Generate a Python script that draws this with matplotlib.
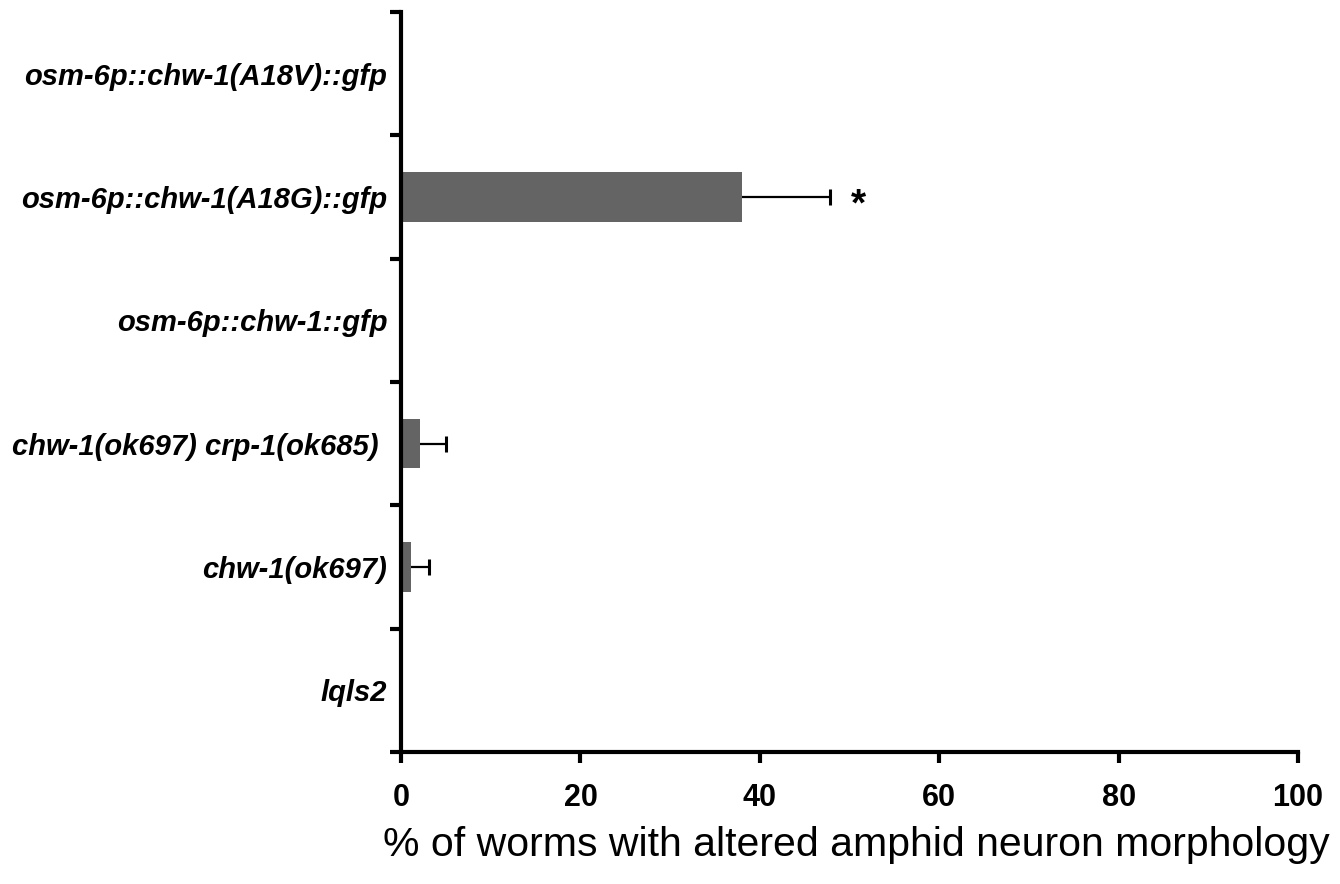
import matplotlib
matplotlib.use("Agg")
import matplotlib.pyplot as plt
import numpy as np

# data, bottom to top
strains = [
    "lqls2",
    "chw-1(ok697)",
    "chw-1(ok697) crp-1(ok685) ",
    "osm-6p::chw-1::gfp",
    "osm-6p::chw-1(A18G)::gfp",
    "osm-6p::chw-1(A18V)::gfp",
]
pct_altered = [0.0, 1.1, 2.1, 0.0, 38.0, 0.0]
sem = [0.0, 2.0, 2.9, 0.0, 9.8, 0.0]
signif = ["", "", "", "", "*", ""]
x_ticks = [0, 20, 40, 60, 80, 100]

plt.rcParams["font.family"] = ["Liberation Sans", "DejaVu Sans"]

fig = plt.figure(figsize=(13.4, 8.84), dpi=100)
ax = fig.add_axes([0.2993, 0.1493, 0.6694, 0.8371])

y = np.arange(len(strains))
vals = np.array(pct_altered)
errs = np.array(sem)
ax.barh(y, vals, height=0.4, color="#646464", edgecolor="none", zorder=2)

has_err = errs > 0
eb = ax.errorbar(vals[has_err], y[has_err], xerr=[np.zeros(has_err.sum()), errs[has_err]],
                 fmt="none", ecolor="black", elinewidth=1.6, capsize=6, capthick=2.2, zorder=3)
# only the upper cap, like the original
eb[1][0].set_visible(False)

for yi, v, e, s in zip(y, vals, errs, signif):
    if s:
        ax.text(v + e + 2.4, yi - 0.07, s, ha="left", va="center", fontsize=28,
                fontweight="bold")

ax.set_xlim(0, 100)
ax.set_ylim(-0.5, len(strains) - 0.5)
ax.spines[["top", "right"]].set_visible(False)
for side in ("left", "bottom"):
    ax.spines[side].set_linewidth(3)

ax.set_xticks(x_ticks, [str(t) for t in x_ticks], fontsize=22, fontweight="bold")
ax.tick_params(axis="x", length=8, width=3, pad=14)

ax.set_yticks(np.arange(-0.5, len(strains), 1.0))
ax.set_yticklabels([])
ax.tick_params(axis="y", which="major", length=8, width=3)
ax.set_yticks(y, minor=True)
ax.set_yticklabels(strains, minor=True, fontsize=21, fontweight="bold", fontstyle="italic")
ax.tick_params(axis="y", which="minor", length=0, pad=10)

ax.set_xlabel("% of worms with altered amphid neuron morphology", fontsize=29.5, labelpad=10)
ax.xaxis.label.set_x(0.508)

fig.savefig("out.png", dpi=100, facecolor="white")
